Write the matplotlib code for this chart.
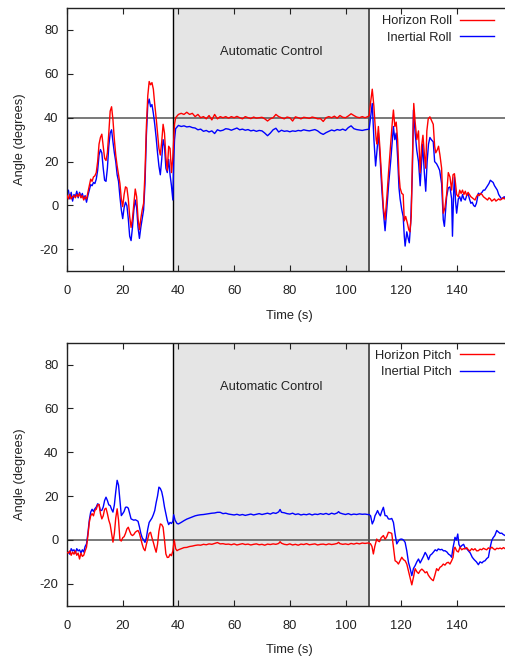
import matplotlib
matplotlib.use("Agg")
import matplotlib.pyplot as plt

plt.rcParams["font.family"] = ["Liberation Sans", "DejaVu Sans"]
plt.rcParams["axes.unicode_minus"] = False

# ---- data -------------------------------------------------------------
AUTO_START = 38.2
AUTO_END = 108.5

roll_h_t = [0, 0.5, 1, 1.5, 2, 2.5, 3, 3.5, 4, 4.5, 5, 5.5, 6, 6.5, 7, 7.5, 8, 8.5, 9, 9.5,
            10, 10.5, 11, 11.5, 12, 12.5, 13, 13.5, 14, 14.5, 15, 15.5, 16, 16.5, 17, 17.5,
            18, 18.5, 19, 19.5, 20, 20.5, 21, 21.5, 22, 22.5, 23, 23.5, 24, 24.5, 25, 25.5,
            26, 26.5, 27, 27.5, 28, 28.5, 29, 29.5, 30, 30.5, 31, 31.5, 32, 32.5, 33, 33.5,
            34, 34.5, 35, 35.5, 36, 36.5, 37, 37.5, 38, 38.3, 38.6,
            39, 40, 41, 42, 43, 44, 45, 46, 47, 48, 49, 50, 51, 52, 53, 54, 55, 56, 57, 58,
            59, 60, 61, 62, 63, 64, 65, 66, 67, 68, 69, 70, 71, 72, 73, 74, 75, 76, 77, 78,
            79, 80, 81, 82, 83, 84, 85, 86, 87, 88, 89, 90, 91, 92, 93, 94, 95, 96, 97, 98,
            99, 100, 101, 102, 103, 104, 105, 106, 107, 108,
            108.5, 109, 109.6, 110.2, 110.6, 111, 111.3, 111.8, 112.3, 113, 113.6, 114.2,
            114.8, 115.5, 116.2, 116.8, 117.2, 117.7, 118.2, 118.7, 119.2, 119.6, 120.2,
            120.7, 121.1, 121.6, 122.2, 122.7, 123.1, 123.6, 124, 124.5, 125, 125.6, 126.2,
            126.8, 127.3, 127.8, 128.4, 128.8, 129.2, 129.7, 130.3, 130.8, 131.5, 132, 132.4,
            133, 133.4, 133.9, 134.5, 135.1, 135.7, 136.3, 136.9, 137.5, 138.1, 138.6, 139.1,
            139.5, 139.9, 140.5, 141, 141.5, 142, 142.5, 143, 143.5, 144, 144.5, 145, 145.5,
            146, 146.5, 147, 147.5, 148, 148.5, 149, 149.5, 150, 150.5, 151, 151.5, 152,
            152.5, 153, 153.5, 154, 154.5, 155, 155.5, 156, 156.5, 157, 157.5]
roll_h = [4.5, 3, 5, 3, 4, 4.5, 3.5, 5, 4, 5.5, 3.5, 4.5, 2.5, 4, 3, 6, 9, 12, 11, 13,
          13.5, 15, 20, 28, 31, 32.5, 27, 21.5, 20.5, 24, 33, 43, 45, 39, 30, 23,
          18, 14, 10, 3, -0.5, 5, 8.5, 8, 3, -5, -10, -6, 1, 7.5, 4, -6,
          -11, -6, -2, 1, 15, 36, 50, 56.5, 55, 56, 53, 46, 40, 33, 26, 23,
          29, 37, 33, 22, 16, 27, 26, 15, 22, 30, 37,
          40, 41.5, 42, 41.5, 42.5, 41.5, 42, 40.5, 41.5, 40, 40.5, 39.5, 41, 39, 41.5, 39.5,
          40.5, 40, 40.5, 39.8,
          40.5, 40, 40.6, 40, 39.5, 40.5, 40, 39.6, 40.3, 39.8, 40, 40.2, 39.5, 38.5, 39.5, 40,
          41.5, 40.5, 40, 39.5,
          40.3, 40, 38.5, 40.4, 40, 39.5, 40.2, 40, 39.7, 40.3, 40, 39.5, 39.6, 38.3, 40, 40.5,
          40, 40.7, 39.8, 41,
          40.2, 40, 40.8, 41.8, 41, 40.3, 40, 40.5, 40, 40.5,
          41, 47, 53, 45, 37, 30, 28, 36, 27, 12, -1, -6.5,
          3, 16, 28, 38, 43.5, 36, 38, 30, 14, 8, 5.5,
          5, -7, -5, -8, -11, -12, -5, 20, 46.5, 38, 30, 34,
          15, 27, 32, 22, 17, 34, 39.5, 40.4, 39, 37, 27, 24,
          25.5, 27, 23, 17, -3.5, -1, 5, 15, 13, 7, 14, 14.5,
          10, 5, 4, 7, 5.5, 7, 5, 6.5, 4.5, 6, 5, 4, 3.5,
          3, 2.5, 4, 5, 4.5, 5.5, 5, 4, 3.5, 3, 2.5, 3.5, 3,
          2, 2.5, 3, 2, 2.5, 3, 2.5, 2.8, 3.5, 3, 3.5]

roll_i_t = [0, 0.5, 1, 1.5, 2, 2.5, 3, 3.5, 4, 4.5, 5, 5.5, 6, 6.5, 7, 7.5, 8, 8.5, 9, 9.5,
            10, 10.5, 11, 11.5, 12, 12.5, 13, 13.5, 14, 14.5, 15, 15.5, 16, 16.5, 17, 17.5,
            18, 18.5, 19, 19.5, 20, 20.5, 21, 21.5, 22, 22.5, 23, 23.5, 24, 24.5, 25, 25.5,
            26, 26.5, 27, 27.5, 28, 28.5, 29, 29.5, 30, 30.5, 31, 31.5, 32, 32.5, 33, 33.5,
            34, 34.5, 35, 35.5, 36, 36.5, 37, 37.5, 38, 38.3, 38.6,
            39, 40, 41, 42, 43, 44, 45, 46, 47, 48, 49, 50, 51, 52, 53, 54, 55, 56, 57, 58,
            59, 60, 61, 62, 63, 64, 65, 66, 67, 68, 69, 70, 71, 72, 73, 74, 75, 76, 77, 78,
            79, 80, 81, 82, 83, 84, 85, 86, 87, 88, 89, 90, 91, 92, 93, 94, 95, 96, 97, 98,
            99, 100, 101, 102, 103, 104, 105, 106, 107, 108,
            108.5, 109, 109.6, 110.2, 110.8, 111.3, 111.8, 112.4, 113, 113.6, 114.2, 114.8,
            115.5, 116.2, 116.8, 117.2, 117.7, 118.2, 118.7, 119.2, 119.6, 120.2, 120.7,
            121.1, 121.4, 122, 122.5, 122.9, 123.4, 124, 124.4, 125, 125.6, 126.2, 126.8,
            127.3, 127.7, 128.3, 128.8, 129.3, 129.8, 130.3, 130.8, 131.5, 132, 132.7, 133.3,
            133.8, 134.5, 135.1, 135.5, 136.3, 136.9, 137.5, 138.1, 138.4, 138.8, 139.1,
            139.5, 139.9, 140.5, 141, 141.5, 142, 142.5, 143, 143.5, 144, 144.5, 145, 145.5,
            146, 146.5, 147, 147.7, 148.3, 149, 149.5, 150, 150.5, 151, 151.5, 152, 152.5,
            153, 153.5, 154, 154.5, 155, 155.5, 156, 156.5, 157, 157.5]
roll_i = [6.5, 7, 3, 6, 2, 5, 4, 6.5, 3.5, 6, 4, 5.5, 3, 4.5, 1.5, 4.5, 7, 9.5, 9, 10.5,
          10, 12, 16, 23, 25.5, 24, 17, 11.5, 11, 17, 27, 33, 34.5, 29, 24, 20,
          14, 11, 4, -2, -6, -1, 1.5, 0, -6, -14, -16, -10, -2, 2.5, -1, -10,
          -15, -10, -6, -2, 10, 32, 46, 48.5, 45, 46, 42, 37, 31, 24, 18, 14,
          21, 30, 27, 17, 15, 21, 14, 9, 2.5, 20, 30,
          35, 36.5, 36, 36.3, 35.8, 36, 35.5, 35.3, 34.5, 34.8, 33.8, 34.2, 33.5, 34, 32.8, 34.5,
          34, 34.3, 35, 34.8,
          34.3, 34.8, 35.3, 34.5, 34.8, 34.3, 34.6, 34, 34.3, 33.8, 34.2, 34, 33, 31.8, 33, 34.5,
          35.2, 33.5, 34.3, 33.8,
          34, 33.6, 34, 33.8, 34.2, 34, 34.5, 34.2, 34, 34.3, 34.6, 34, 33, 32.4, 33.2, 33.8,
          34.4, 34, 34.6, 34.3,
          34.8, 34.2, 35.5, 36.3, 35, 34.6, 34.4, 34.2, 34.5, 34.7,
          34.8, 40, 46.5, 30, 18, 25, 33, 22, 8, -3, -11.5, -2,
          10, 20, 30, 36, 30, 33, 22, 8, 3, -2, -5,
          -14, -18.5, -12, -15, -17, -8, 15, 43.5, 33, 25, 20, 9,
          20, 28, 15, 6.5, 20, 28, 31, 30, 29, 20, 19, 17.5,
          16, 10, -6.5, -9.5, 4, 8, 8.5, 3, -14, 5, 13,
          2, -3.5, 3, 4, 2, 5, 3, 2.5, 4.5, 5.5, 3, 1, 1.5,
          0, -0.5, 1, 5.6, 5, 6, 7, 7, 8, 9, 10, 11.5, 11,
          10.5, 9, 8, 7, 5, 4, 3, 3.5, 4, 3]

pitch_h_t = [0, 0.5, 1, 1.5, 2, 2.5, 3, 3.5, 4, 4.5, 5, 5.5, 6, 6.5, 7, 7.5, 8, 8.5, 9, 9.5,
             10, 10.5, 11, 11.5, 12, 12.5, 13, 13.5, 14, 14.5, 15, 15.5, 16, 16.5, 17, 17.5,
             18, 18.5, 19, 19.5, 20, 20.5, 21, 21.5, 22, 22.5, 23, 23.5, 24, 24.5, 25, 25.5,
             26, 26.5, 27, 27.5, 28, 28.5, 29, 29.5, 30, 30.5, 31, 31.5, 32, 32.5, 33, 33.5,
             34, 34.5, 35, 35.5, 36, 36.5, 37, 37.5, 38, 38.5,
             39, 39.5, 40, 41, 42, 43, 44, 45, 46, 47, 48, 49, 50, 51, 52, 53, 54, 55, 56, 57,
             58, 59, 60, 61, 62, 63, 64, 65, 66, 67, 68, 69, 70, 71, 72, 73, 74, 75, 76, 76.5,
             77, 78, 79, 80, 81, 82, 83, 84, 85, 86, 87, 88, 89, 90, 91, 92, 93, 94, 95, 96,
             97, 97.5, 98, 99, 100, 101, 102, 103, 104, 105, 106, 107, 108,
             108.5, 109, 109.5, 110, 110.5, 111.2, 111.7, 112.2, 112.8, 113.6, 114.2, 114.8,
             115.4, 116, 116.6, 117.2, 117.8, 118.4, 119, 119.6, 120.2, 120.8, 121.4, 122,
             122.6, 123.2, 123.8, 124.4, 125, 125.6, 126.2, 126.8, 127.4, 128, 128.6, 129.2,
             129.7, 130.3, 130.9, 131.5, 132.1, 132.7, 133.3, 133.9, 134.5, 135.1, 135.7,
             136.3, 136.9, 137.5, 138.1, 138.6, 139, 139.3, 139.9, 140.5, 141.1, 141.7, 142.3,
             142.9, 143.5, 144.1, 144.7, 145.3, 145.9, 146.5, 147.1, 147.7, 148.3, 148.9,
             149.5, 150.1, 150.7, 151.3, 151.9, 152.5, 153.1, 153.7, 154.3, 154.9, 155.5,
             156.1, 156.7, 157.3]
pitch_h = [-5.7, -6, -5, -7, -5.5, -6.5, -5, -7, -6, -8.7, -6, -7.5, -7, -5, -3.3, 2, 8, 11,
           12, 11,
           13.5, 14, 16, 16.2, 12, 9.6, 11, 14, 14.5, 12, 9, 7, 3, -1, 3, 10,
           14.2, 9, 0, -0.5, 1, 1.5, 3, 5, 5.8, 4, 2.5, 2, 2.5, 3.5, 4, 4.3,
           3, 0.5, -2, -4, -4.9, -2, 0.5, 3, 3.5, 1, -1.1, -3.5, -5.6, -2, 4, 7.3,
           7, 5.8, 0, -6.4, -8, -7.9, -6.5, -7.2, -5, 0,
           -4, -4.9, -4.5, -4, -3.5, -3.4, -3, -2.8, -2.5, -2.3, -2.4, -2, -2.2, -1.8, -2, -1.6,
           -1.2, -1.8, -1.7, -2,
           -1.9, -2.2, -1.8, -2.3, -2, -1.7, -2.1, -1.9, -2.3, -2, -1.8, -2.2, -2, -2.4, -1.9,
           -2.1, -1.8, -2, -1.6, -0.8,
           -1.5, -2, -2.2, -1.8, -2.3, -2, -2.4, -1.9, -2.1, -1.7, -2.2, -2, -1.8, -2.3, -2,
           -1.9, -2.2, -1.8, -2.1, -1.9,
           -1.6, -1.1, -1.7, -2, -1.8, -2.1, -1.6, -1.9, -1.5, -1.8, -1.4, -1.6, -1.4,
           -1.5, -1.8, -3, -6.4, -3, 0.4, -0.5, -0.8, 1, 2, 0.3, 1.5,
           3.5, 3.3, 3, -3.3, -9.5, -10, -11, -9.5, -7.9, -9, -9.5, -11,
           -14.1, -17, -20.5, -17, -13.1, -14.5, -15.3, -14, -13.3, -14, -15, -14.5,
           -16, -17.1, -18, -18.6, -16, -13.1, -14, -12.5, -12, -11, -11.5,
           -10.5, -10.2, -11, -9.5, -8, -4, -3.3, -5, -5.5, -3.3, -4.5, -4,
           -4.1, -3.5, -4.5, -5, -4, -4.6, -4, -5, -4.9, -4.2, -4.5,
           -3.8, -4.2, -4.5, -3.6, -4.1, -3.3, -4, -4.5, -3.8, -4, -3.7,
           -4.1, -3.5, -4]

pitch_i_t = [0, 0.5, 1, 1.5, 2, 2.5, 3, 3.5, 4, 4.5, 5, 5.5, 6, 6.5, 7, 7.5, 8, 8.5, 9, 9.5,
             10, 10.5, 11, 11.5, 12, 12.5, 13, 13.5, 14, 14.5, 15, 15.5, 16, 16.5, 17, 17.5,
             18, 18.5, 19, 19.5, 20, 20.5, 21, 21.5, 22, 22.5, 23, 23.5, 24, 24.5, 25, 25.5,
             26, 26.5, 27, 27.5, 28, 28.5, 29, 29.5, 30, 30.5, 31, 31.5, 32, 32.5, 33, 33.5,
             34, 34.5, 35, 35.5, 36, 36.5, 37, 37.5, 38, 38.3, 38.8,
             39.5, 40, 41, 42, 43, 44, 45, 46, 47, 48, 49, 50, 51, 52, 53, 54, 55, 56, 57, 58,
             59, 60, 61, 62, 63, 64, 65, 66, 67, 68, 69, 70, 71, 72, 73, 74, 75, 76, 76.5, 77,
             78, 79, 80, 81, 82, 83, 84, 85, 86, 87, 88, 89, 90, 91, 92, 93, 94, 95, 96, 97,
             97.5, 98, 99, 100, 101, 102, 103, 104, 105, 106, 107, 108,
             108.5, 109, 109.6, 110.2, 110.6, 111, 111.5, 112, 112.5, 113, 113.6, 114.2,
             114.8, 115.4, 116, 116.6, 117.2, 117.8, 118.4, 119, 119.6, 120.2, 120.8, 121.4,
             122, 122.6, 123.2, 123.8, 124.4, 125, 125.6, 126.2, 126.8, 127.4, 128, 128.6,
             129.2, 129.8, 130.4, 131, 131.6, 132.2, 132.8, 133.3, 134, 134.6, 135.2, 135.7,
             136.4, 137, 137.6, 138.1, 138.6, 139, 139.3, 139.8, 140.3, 140.7, 141.2, 141.8,
             142.4, 143, 143.5, 144.1, 144.8, 145.5, 146.2, 147, 147.7, 148.3, 149, 149.5,
             150.1, 150.7, 151.3, 152, 152.5, 153, 153.6, 154.3, 155, 155.5, 156.1, 156.6,
             157.3]
pitch_i = [-6, -5.5, -6.5, -4, -5, -4.5, -6, -4, -5, -4.5, -6, -4.5, -5.5, -3, -1.8, 3, 9,
           12.7, 14, 13,
           14.2, 15, 16.5, 16, 13.4, 13.5, 15, 18, 19.5, 18, 16, 15.7, 14, 12.7, 16, 22,
           27.2, 25, 18, 11.1, 12, 13, 14.9, 15, 14.5, 12, 9.6, 9.3, 9, 9.2, 8.9, 8.5,
           6, 3, 1, 0, -1.1, 1, 5, 8, 9, 10, 11.5, 13.4, 17, 20, 24.1, 23.5,
           22, 19, 15, 12, 8.9, 7, 8, 7.5, 8.5, 11.5, 9,
           7.5, 7.3, 8, 8.8, 9.5, 10, 10.5, 11, 11.3, 11.5, 11.6, 11.8, 12, 12.2, 12.3, 12.6,
           12.6, 12, 12.2, 11.8,
           11.6, 11.4, 11.7, 11.3, 11.6, 11.2, 11.5, 11.8, 11.4, 11.7, 12, 11.6, 11.9, 12.2,
           11.8, 12.4, 12.1, 12.8, 13.9, 12.6,
           12.4, 12, 11.8, 12.2, 11.6, 11.9, 11.4, 11.7, 11.5, 11.9, 11.4, 11.8, 11.6, 12,
           11.7, 12.1, 11.6, 12.2, 11.8, 12.3,
           12.9, 12.3, 11.9, 11.6, 12, 11.5, 11.8, 11.6, 11.9, 11.7, 11.8, 11.6,
           11.6, 11, 7.3, 9, 11.1, 12, 13.4, 12, 11, 13, 14.9, 11.1,
           11, 9.6, 9.5, 9.8, 8, 2.7, -1.8, -0.5, 0.3, 0.4, 0, -1.1,
           -5, -10.2, -13, -16.3, -13, -11.7, -10, -8.7, -10.5, -9, -7.5, -5.7,
           -7, -9, -7, -6.4, -5.5, -4.5, -5, -4.1, -4.5, -4.3, -5, -4.9,
           -5.5, -6.5, -7, -7.9, -3.5, -1, 1.2, 0, 2.7, -2, -3.3, -2.5,
           -2, -3.8, -4, -4.9, -6, -7.9, -9, -10, -11.3, -10, -10.5, -9.8,
           -9.5, -8.5, -7.9, -3, -0.3, 1, 2, 4.3, 3.5, 3, 3.1, 2.5,
           2]

X_TICKS = [0, 20, 40, 60, 80, 100, 120, 140]
Y_TICKS = [-20, 0, 20, 40, 60, 80]

RED = "#ff0000"
BLUE = "#0000ff"
SHADE = "#e5e5e5"
FS = 9.3


def style_axes(ax):
    ax.set_xlim(0, 160)
    ax.set_ylim(-30, 90)
    ax.set_xticks(X_TICKS)
    ax.set_yticks(Y_TICKS)
    ax.tick_params(direction="in", length=4, width=0.8, top=True, right=True,
                   labelsize=FS, colors="#222222")
    ax.tick_params(axis="x", pad=10)
    ax.tick_params(axis="y", pad=6)
    for s in ax.spines.values():
        s.set_linewidth(1.0)
        s.set_color("#222222")
    ax.set_ylabel("Angle (degrees)", fontsize=FS, color="#222222")
    ax.yaxis.set_label_coords(-0.092, 0.5)
    ax.set_xlabel("Time (s)", fontsize=FS, color="#222222")
    ax.xaxis.set_label_coords(0.5, -0.145)


def panel(ax, t_h, v_h, t_i, v_i, ref, labels):
    ax.axvspan(AUTO_START, AUTO_END, color=SHADE, lw=0, zorder=0)
    ax.axhline(ref, color="#555555", lw=1.1, zorder=1)
    ax.axvline(AUTO_START, color="black", lw=1.0, zorder=1)
    ax.axvline(AUTO_END, color="#555555", lw=1.4, zorder=1)
    ax.text((AUTO_START + AUTO_END) / 2, 70, "Automatic Control", ha="center",
            va="center", fontsize=FS, color="#222222")
    ax.plot(t_h, v_h, color=RED, lw=1.0, label=labels[0], zorder=3)
    ax.plot(t_i, v_i, color=BLUE, lw=1.0, label=labels[1], zorder=2)
    leg = ax.legend(loc="upper right", bbox_to_anchor=(0.975, 1.0), frameon=False,
                    markerfirst=False, fontsize=FS, handlelength=2.7,
                    handletextpad=0.6, labelspacing=0.35, borderaxespad=0.25,
                    borderpad=0.3)
    for txt in leg.get_texts():
        txt.set_color("#222222")
    style_axes(ax)


def main():
    fig = plt.figure(figsize=(5.05, 6.56), dpi=100)
    ax_top = fig.add_axes([0.1327, 0.5864, 0.8824, 0.4014])
    ax_bot = fig.add_axes([0.1327, 0.0767, 0.8824, 0.4009])

    panel(ax_top, roll_h_t, roll_h, roll_i_t, roll_i, 40,
          ["Horizon Roll", "Inertial Roll"])
    panel(ax_bot, pitch_h_t, pitch_h, pitch_i_t, pitch_i, 0,
          ["Horizon Pitch", "Inertial Pitch"])

    fig.savefig("out.png", dpi=100)
    plt.close(fig)


if __name__ == "__main__":
    main()
